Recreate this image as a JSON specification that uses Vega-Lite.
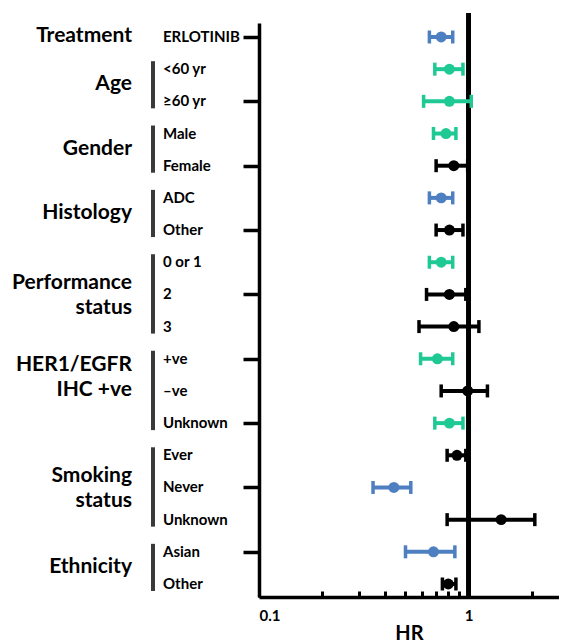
{
  "$schema": "https://vega.github.io/schema/vega-lite/v6.json",
  "padding": {"left": 0, "top": 11, "right": 0, "bottom": 0},
  "background": "white",
  "config": {"view": {"stroke": null}, "font": "Lato"},
  "data": {"values": [
    {"row": 1, "group": "Treatment", "label": "ERLOTINIB", "hr": 0.74, "lo": 0.65, "hi": 0.84, "class": "primary"},
    {"row": 2, "group": "Age", "label": "<60 yr", "hr": 0.81, "lo": 0.69, "hi": 0.94, "class": "secondary"},
    {"row": 3, "group": "Age", "label": "≥60 yr", "hr": 0.81, "lo": 0.61, "hi": 1.03, "class": "secondary"},
    {"row": 4, "group": "Gender", "label": "Male", "hr": 0.78, "lo": 0.68, "hi": 0.87, "class": "secondary"},
    {"row": 5, "group": "Gender", "label": "Female", "hr": 0.85, "lo": 0.70, "hi": 0.99, "class": "none"},
    {"row": 6, "group": "Histology", "label": "ADC", "hr": 0.74, "lo": 0.65, "hi": 0.84, "class": "primary"},
    {"row": 7, "group": "Histology", "label": "Other", "hr": 0.81, "lo": 0.70, "hi": 0.94, "class": "none"},
    {"row": 8, "group": "Performance\nstatus", "label": "0 or 1", "hr": 0.74, "lo": 0.65, "hi": 0.84, "class": "secondary"},
    {"row": 9, "group": "Performance\nstatus", "label": "2", "hr": 0.81, "lo": 0.63, "hi": 0.97, "class": "none"},
    {"row": 10, "group": "Performance\nstatus", "label": "3", "hr": 0.85, "lo": 0.58, "hi": 1.12, "class": "none"},
    {"row": 11, "group": "HER1/EGFR\nIHC +ve", "label": "+ve", "hr": 0.71, "lo": 0.59, "hi": 0.84, "class": "secondary"},
    {"row": 12, "group": "HER1/EGFR\nIHC +ve", "label": "–ve", "hr": 0.99, "lo": 0.74, "hi": 1.23, "class": "none"},
    {"row": 13, "group": "HER1/EGFR\nIHC +ve", "label": "Unknown", "hr": 0.81, "lo": 0.69, "hi": 0.94, "class": "secondary"},
    {"row": 14, "group": "Smoking\nstatus", "label": "Ever", "hr": 0.88, "lo": 0.79, "hi": 0.97, "class": "none"},
    {"row": 15, "group": "Smoking\nstatus", "label": "Never", "hr": 0.44, "lo": 0.35, "hi": 0.53, "class": "primary"},
    {"row": 16, "group": "Smoking\nstatus", "label": "Unknown", "hr": 1.43, "lo": 0.79, "hi": 2.07, "class": "none"},
    {"row": 17, "group": "Ethnicity", "label": "Asian", "hr": 0.68, "lo": 0.50, "hi": 0.86, "class": "primary"},
    {"row": 18, "group": "Ethnicity", "label": "Other", "hr": 0.80, "lo": 0.75, "hi": 0.87, "class": "none"}
  ]},
  "spacing": 106,
  "bounds": "flush",
  "resolve": {"scale": {"y": "shared"}},
  "hconcat": [
    {
      "width": 153,
      "height": 574,
      "layer": [
        {
          "mark": {"type": "text", "x": "width", "dx": 10, "align": "left", "baseline": "middle", "fontSize": 15, "fontWeight": "bold", "font": "Lato", "color": "black"},
          "encoding": {
            "y": {"field": "row", "type": "quantitative", "scale": {"domain": [0.565, 18.404], "reverse": true, "zero": false, "nice": false}, "axis": null},
            "text": {"field": "label"}
          }
        },
        {
          "transform": [{"filter": "indexof(datum.group, '\\n') < 0"}],
          "mark": {"type": "text", "x": "width", "dx": -21, "dy": -1, "align": "right", "baseline": "middle", "fontSize": 21, "fontWeight": "bold", "font": "Lato", "color": "black"},
          "encoding": {
            "y": {"aggregate": "mean", "field": "row", "type": "quantitative", "scale": {"domain": [0.565, 18.404], "reverse": true, "zero": false, "nice": false}, "axis": null},
            "text": {"field": "group"}
          }
        },
        {
          "transform": [{"filter": "indexof(datum.group, '\\n') >= 0 && indexof(datum.group, 'HER1') < 0"}],
          "mark": {"type": "text", "x": "width", "dx": -21, "dy": -11, "align": "right", "baseline": "middle", "fontSize": 21, "fontWeight": "bold", "font": "Lato", "lineBreak": "\n", "lineHeight": 25, "color": "black"},
          "encoding": {
            "y": {"aggregate": "mean", "field": "row", "type": "quantitative", "scale": {"domain": [0.565, 18.404], "reverse": true, "zero": false, "nice": false}, "axis": null},
            "text": {"field": "group"}
          }
        },
        {
          "transform": [{"filter": "indexof(datum.group, 'HER1') >= 0"}],
          "mark": {"type": "text", "x": "width", "dx": -21, "dy": -26, "align": "right", "baseline": "middle", "fontSize": 21, "fontWeight": "bold", "font": "Lato", "lineBreak": "\n", "lineHeight": 25, "color": "black"},
          "encoding": {
            "y": {"aggregate": "mean", "field": "row", "type": "quantitative", "scale": {"domain": [0.565, 18.404], "reverse": true, "zero": false, "nice": false}, "axis": null},
            "text": {"field": "group"}
          }
        },
        {
          "transform": [{"filter": "datum.group !== 'Treatment'"}],
          "mark": {"type": "rule", "x": "width", "yOffset": -8, "y2Offset": 7, "strokeWidth": 4, "color": "#3a3a3a"},
          "encoding": {
            "y": {"aggregate": "min", "field": "row", "type": "quantitative", "scale": {"domain": [0.565, 18.404], "reverse": true, "zero": false, "nice": false}, "axis": null},
            "y2": {"aggregate": "max", "field": "row"},
            "detail": {"field": "group"}
          }
        }
      ]
    },
    {
      "width": 300,
      "height": 574,
      "layer": [
        {
          "mark": {"type": "rule", "yOffset": -10, "strokeWidth": 3.5, "color": "black"},
          "encoding": {
            "x": {"datum": 1, "type": "quantitative", "scale": {"type": "log", "domain": [0.1, 2.7], "nice": false}}
          }
        },
        {
          "mark": {"type": "rule", "strokeWidth": 4},
          "encoding": {
            "x": {"field": "lo", "type": "quantitative", "scale": {"type": "log", "domain": [0.1, 2.7], "nice": false},
              "axis": {"values": [0.1, 0.2, 0.3, 0.4, 0.5, 0.6, 0.7, 0.8, 0.9, 1, 2], "labelExpr": "datum.value === 0.1 ? '0.1' : (datum.value === 1 ? '1' : '')", "tickSize": -6, "tickWidth": 3, "tickColor": "black", "domainWidth": 3.5, "domainColor": "black", "grid": false, "labelFont": "Lato", "labelFontWeight": "bold", "labelFontSize": 15, "labelColor": "black", "labelPadding": 17, "title": "HR", "titleFont": "Lato", "titleFontSize": 20, "titleFontWeight": "bold", "titleColor": "black", "titlePadding": 0}},
            "x2": {"field": "hi"},
            "y": {"field": "row", "type": "quantitative", "scale": {"domain": [0.565, 18.404], "reverse": true, "zero": false, "nice": false},
              "axis": {"values": [1, 2, 3, 4, 5, 6, 7, 8, 9, 10, 11, 12, 13, 14, 15, 16, 17, 18], "labels": false, "tickSize": 16, "tickWidth": 3.5, "tickColor": "black", "domainWidth": 3.5, "domainColor": "black", "grid": false, "title": null}},
            "color": {"field": "class", "type": "nominal", "scale": {"domain": ["primary", "secondary", "none"], "range": ["#4E7FC0", "#1FC994", "#000000"]}, "legend": null}
          }
        },
        {
          "mark": {"type": "tick", "orient": "vertical", "size": 13, "thickness": 3.5, "opacity": 1},
          "encoding": {
            "x": {"field": "lo", "type": "quantitative"},
            "y": {"field": "row", "type": "quantitative"},
            "color": {"field": "class", "type": "nominal", "legend": null}
          }
        },
        {
          "mark": {"type": "tick", "orient": "vertical", "size": 13, "thickness": 3.5, "opacity": 1},
          "encoding": {
            "x": {"field": "hi", "type": "quantitative"},
            "y": {"field": "row", "type": "quantitative"},
            "color": {"field": "class", "type": "nominal", "legend": null}
          }
        },
        {
          "mark": {"type": "circle", "size": 120, "opacity": 1},
          "encoding": {
            "x": {"field": "hr", "type": "quantitative"},
            "y": {"field": "row", "type": "quantitative"},
            "color": {"field": "class", "type": "nominal", "legend": null}
          }
        }
      ]
    }
  ]
}
